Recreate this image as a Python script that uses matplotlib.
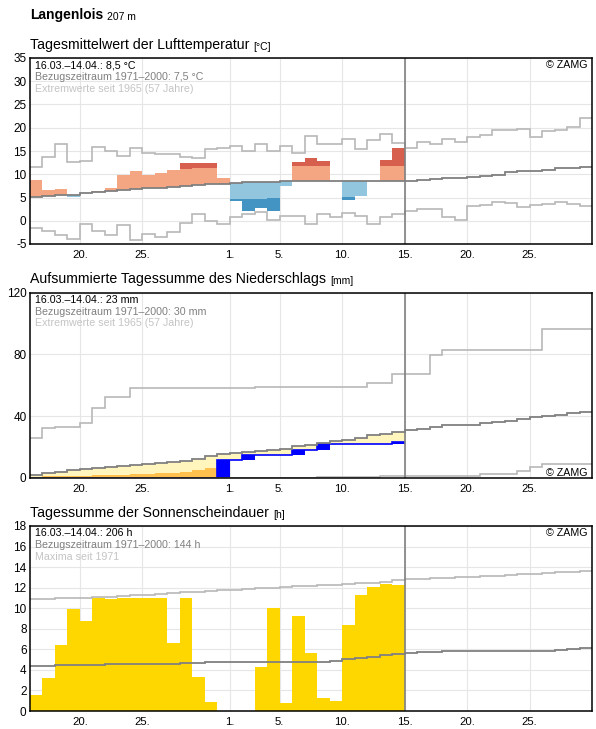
import numpy as np
import matplotlib
matplotlib.use("Agg")
import matplotlib.pyplot as plt
from matplotlib.transforms import offset_copy

plt.rcParams['font.family'] = ['Liberation Sans', 'DejaVu Sans']
plt.rcParams['axes.unicode_minus'] = False

# ---------------- data ----------------
# day index 0 = 16 March ... 44 = 30 April ; observed days 0..29 (16.03.-14.04.)
xtick_pos = [4, 9, 16, 20, 25, 30, 35, 40]
xtick_labels = ["20.", "25.", "1.", "5.", "10.", "15.", "20.", "25."]

temp_mean = [8.7, 6.6, 6.8, 5.1, 5.9, 6.4, 7.0, 9.8, 10.6, 9.8,
             10.2, 10.9, 12.4, 12.4, 12.4, 9.1, 4.2, 2.1, 2.7, 2.1,
             7.5, 12.6, 13.4, 12.8, 8.5, 4.5, 5.3, 8.5, 13.0, 15.6]
temp_ref = [5.1, 5.4, 5.6, 5.6, 5.9, 6.1, 6.4, 6.6, 6.8, 7.0,
            7.1, 7.3, 7.4, 7.6, 7.8, 8.0, 8.2, 8.3, 8.4, 8.4,
            8.5, 8.5, 8.5, 8.5, 8.5, 8.5, 8.5, 8.5, 8.5, 8.5,
            8.6, 8.7, 8.9, 9.1, 9.3, 9.5, 9.7, 9.9, 10.4, 10.6,
            10.7, 11.0, 11.3, 11.4, 11.6]
temp_upper = [9.0, 9.2, 9.4, 9.6, 9.8, 10.0, 10.2, 10.4, 10.6, 10.8,
              10.9, 11.0, 11.1, 11.3, 11.3, 11.4, 11.5, 11.5, 11.6, 11.6,
              11.7, 11.7, 11.7, 11.7, 11.7, 11.7, 11.7, 11.7, 11.7, 11.7]
temp_lower = [2.0, 2.2, 2.4, 2.6, 2.8, 3.0, 3.2, 3.4, 3.6, 3.8,
              4.0, 4.1, 4.2, 4.3, 4.4, 4.5, 4.7, 4.6, 4.7, 5.0,
              5.0, 5.1, 5.1, 5.1, 5.1, 5.1, 5.2, 5.2, 5.2, 5.2]
temp_max = [11.6, 13.8, 16.4, 12.7, 12.9, 15.9, 15.1, 14.0, 15.6, 14.6,
            14.4, 14.4, 13.8, 13.4, 15.4, 15.7, 16.1, 15.0, 16.6, 15.0,
            16.1, 14.6, 18.3, 16.6, 16.4, 17.6, 15.5, 17.4, 18.7, 16.8,
            15.7, 17.0, 16.6, 17.6, 17.0, 18.1, 18.5, 19.6, 19.6, 19.8,
            18.1, 19.4, 19.6, 20.2, 22.2]
temp_min = [-1.6, -2.1, -3.1, -4.0, -0.8, -2.1, -3.1, -1.0, -4.2, -2.9,
            -3.4, -2.5, -0.5, 1.4, -0.1, -0.8, 0.9, 1.4, 1.8, 0.1,
            1.1, 1.1, -0.6, 1.4, 0.9, 1.6, 1.1, -0.6, 0.7, 1.4,
            2.0, 2.6, 2.6, 0.7, 0.1, 3.1, 3.3, 4.1, 3.9, 2.9,
            3.3, 3.5, 4.1, 3.5, 3.1]

precip_cum = [0.0, 0.0, 0.0, 0.0, 0.0, 0.0, 0.0, 0.0, 0.0, 0.0,
              0.0, 0.0, 0.0, 0.0, 0.2, 11.6, 11.6, 14.8, 14.8, 14.8,
              14.8, 18.4, 18.4, 21.7, 21.7, 21.7, 21.7, 21.7, 21.7, 23.1]
precip_ref = [2.1, 3.3, 4.2, 5.2, 5.7, 6.4, 7.2, 8.0, 8.6, 9.2,
              9.7, 10.2, 10.9, 12.6, 14.3, 15.3, 16.0, 16.8, 17.4, 18.3,
              19.1, 20.6, 21.5, 22.4, 23.7, 24.7, 26.0, 27.7, 28.6, 30.1,
              31.0, 32.0, 33.3, 34.2, 34.2, 34.2, 35.3, 36.1, 37.0, 38.3,
              39.4, 40.2, 41.1, 41.9, 42.6]
precip_low = [0.6, 1.0, 1.3, 1.6, 1.6, 1.7, 2.1, 2.2, 2.3, 2.5,
              3.0, 3.5, 4.0, 5.2, 6.4, 7.0, 7.4, 7.8, 8.2, 8.6,
              9.0, 9.5, 10.0, 10.5, 11.0, 11.6, 12.2, 12.9, 13.5, 14.2]
precip_max = [26.0, 32.5, 32.9, 33.3, 35.5, 45.2, 52.3, 52.3, 58.3, 58.3,
              58.3, 58.3, 58.3, 58.3, 58.3, 58.3, 58.3, 58.3, 58.7, 58.7,
              58.7, 58.7, 58.7, 58.7, 58.7, 58.7, 58.7, 61.7, 61.7, 67.1,
              67.1, 67.1, 79.6, 83.2, 83.2, 83.2, 83.2, 83.2, 83.2, 83.2,
              83.2, 96.6, 96.6, 96.6, 96.6]
precip_min = [0.0, 0.0, 0.0, 0.0, 0.0, 0.0, 0.0, 0.0, 0.0, 0.0,
              0.0, 0.0, 0.0, 0.0, 0.0, 0.0, 0.0, 0.0, 0.0, 0.0,
              0.0, 0.0, 0.0, 0.4, 0.4, 0.4, 0.4, 0.4, 1.3, 1.3,
              1.3, 1.3, 1.3, 1.3, 1.3, 1.3, 2.6, 2.6, 2.6, 4.5,
              7.3, 9.0, 9.0, 9.0, 9.0]

sun = [1.6, 3.2, 6.4, 9.9, 8.8, 11.0, 10.9, 11.0, 11.0, 11.0,
       11.0, 6.6, 11.0, 3.3, 0.9, 0.0, 0.0, 0.0, 4.3, 10.0,
       0.8, 9.2, 5.6, 1.3, 1.0, 8.4, 11.3, 12.1, 12.4, 12.3]
sun_ref = [4.38, 4.38, 4.48, 4.48, 4.48, 4.48, 4.54, 4.54, 4.54, 4.54,
           4.54, 4.54, 4.64, 4.64, 4.74, 4.74, 4.74, 4.74, 4.74, 4.74,
           4.77, 4.77, 4.77, 4.77, 4.87, 5.03, 5.16, 5.29, 5.42, 5.5,
           5.6, 5.7, 5.75, 5.8, 5.87, 5.87, 5.87, 5.87, 5.87, 5.87,
           5.87, 5.87, 5.95, 6.0, 6.1]
sun_max = [10.87, 10.87, 10.95, 10.95, 11.0, 11.05, 11.1, 11.2, 11.25, 11.3,
           11.35, 11.45, 11.55, 11.6, 11.7, 11.75, 11.8, 11.85, 11.95, 12.0,
           12.1, 12.15, 12.2, 12.25, 12.3, 12.35, 12.45, 12.5, 12.6, 12.7,
           12.8, 12.85, 12.9, 12.95, 13.0, 13.05, 13.1, 13.15, 13.25, 13.3,
           13.35, 13.4, 13.5, 13.55, 13.65]

# ---------------- styling ----------------
W, H = 596, 729
SALMON, DARKRED = '#f4a582', '#d6604d'
LIGHTBLUE, DARKBLUE = '#92c5de', '#4393c3'
YELLOW, ORANGE, BLUE = '#fff5bd', '#ffc04d', '#0000ff'
GOLD = '#ffd700'
REFC, EXTC = '#808080', '#b8b8b8'
GRIDC = '#e6e6e6'
INFO_FS = 7.7
TICK_FS = 8.5

fig = plt.figure(figsize=(W / 100, H / 100), dpi=100)

def make_ax(top, bottom):
    ax = fig.add_axes([30 / W, 1 - bottom / H, 562 / W, (bottom - top) / H])
    ax.set_xlim(0, 45)
    ax.set_xticks(xtick_pos)
    ax.set_xticklabels(xtick_labels)
    ax.tick_params(axis='both', length=0, labelsize=TICK_FS, colors='black')
    ax.tick_params(axis='x', pad=4.5, labelsize=8.2)
    ax.tick_params(axis='y', pad=2.5)
    ax.grid(True, color=GRIDC, lw=0.8)
    ax.set_axisbelow(True)
    for s in ax.spines.values():
        s.set_linewidth(1.1)
        s.set_color('black')
    return ax

def title(ax, top, main, unit):
    t = fig.text(30 / W, 1 - (top - 9.5) / H, main, fontsize=10.2, va='baseline', ha='left')
    ax.annotate(unit, xy=(1, 0), xycoords=t, xytext=(3, 0), textcoords='offset points',
                fontsize=7.5, va='bottom', ha='left', annotation_clip=False)

def info(ax, lines):
    cols = ['black', '#808080', '#c4c4c4']
    for k, (txt, c) in enumerate(zip(lines, cols)):
        tr = offset_copy(ax.transAxes, fig=fig, x=5, y=-(10.5 + 11.5 * k), units='dots')
        ax.text(0, 1, txt, transform=tr, fontsize=INFO_FS, color=c, va='baseline', ha='left', zorder=5)

def zamg(ax, bottom=False):
    if bottom:
        tr = offset_copy(ax.transAxes, fig=fig, x=-5, y=2.5, units='dots')
        ax.text(1, 0, '© ZAMG', transform=tr, fontsize=INFO_FS, va='baseline', ha='right', zorder=2.4,
                bbox=dict(facecolor='white', edgecolor='none', pad=1.0))
    else:
        tr = offset_copy(ax.transAxes, fig=fig, x=-5, y=-10.5, units='dots')
        ax.text(1, 1, '© ZAMG', transform=tr, fontsize=INFO_FS, va='baseline', ha='right', zorder=5)

edges = np.arange(46)
xo = np.arange(30)

# ---- header ----
t0 = fig.text(30 / W, 1 - 19.5 / H, 'Langenlois', fontsize=10, fontweight='bold', va='baseline')

# ---------------- temperature ----------------
ax1 = make_ax(58, 244)
ax1.set_ylim(-5, 35)
ax1.set_yticks(np.arange(-5, 36, 5))
ax1.annotate('207 m', xy=(1, 0), xycoords=t0, xytext=(3, 0), textcoords='offset points',
             fontsize=7.5, va='bottom', ha='left', annotation_clip=False)
tm = np.array(temp_mean); tr_ = np.array(temp_ref[:30])
tu = np.array(temp_upper); tl = np.array(temp_lower)
above = tm > tr_
below = tm < tr_
s_top = np.where(above, np.minimum(tm, tu), tr_)
ax1.bar(xo, s_top - tr_, bottom=tr_, width=1, align='edge', color=SALMON, lw=0)
d_h = np.where(above & (tm > tu), tm - tu, 0)
ax1.bar(xo, d_h, bottom=tu, width=1, align='edge', color=DARKRED, lw=0)
lb_bot = np.where(below, np.maximum(tm, tl), tr_)
ax1.bar(xo, tr_ - lb_bot, bottom=lb_bot, width=1, align='edge', color=LIGHTBLUE, lw=0)
db_h = np.where(below & (tm < tl), tl - tm, 0)
ax1.bar(xo, db_h, bottom=tm, width=1, align='edge', color=DARKBLUE, lw=0)
ax1.stairs(temp_max, edges, baseline=None, color=EXTC, lw=1.2)
ax1.stairs(temp_min, edges, baseline=None, color=EXTC, lw=1.2)
ax1.stairs(temp_ref, edges, baseline=None, color=REFC, lw=1.3)
ax1.axvline(30, color=REFC, lw=1.2)
title(ax1, 58, 'Tagesmittelwert der Lufttemperatur', '[°C]')
info(ax1, ['16.03.–14.04.: 8,5 °C', 'Bezugszeitraum 1971–2000: 7,5 °C',
           'Extremwerte seit 1965 (57 Jahre)'])
zamg(ax1)

# ---------------- precipitation ----------------
ax2 = make_ax(292.7, 478)
ax2.set_ylim(0, 120)
ax2.set_yticks([0, 40, 80, 120])
pc = np.array(precip_cum); pr = np.array(precip_ref[:30]); pl = np.array(precip_low)
y_bot = np.maximum(pc, pl)
ax2.bar(xo, np.where(pc < pr, pr - y_bot, 0), bottom=y_bot, width=1, align='edge', color=YELLOW, lw=0)
ax2.bar(xo, np.where(pc < pl, pl - pc, 0), bottom=pc, width=1, align='edge', color=ORANGE, lw=0)
prev = np.concatenate([[0.0], pc[:-1]])
ax2.bar(xo, pc - prev, bottom=prev, width=1, align='edge', color=BLUE, lw=0)
ax2.stairs(precip_cum, np.arange(31), baseline=None, color=BLUE, lw=1.2)
ax2.stairs(precip_max, edges, baseline=None, color=EXTC, lw=1.2)
ax2.stairs(precip_min, edges, baseline=None, color=EXTC, lw=1.2)
ax2.stairs(precip_ref, edges, baseline=None, color=REFC, lw=1.3)
ax2.axvline(30, color=REFC, lw=1.2)
title(ax2, 292.7, 'Aufsummierte Tagessumme des Niederschlags', '[mm]')
info(ax2, ['16.03.–14.04.: 23 mm', 'Bezugszeitraum 1971–2000: 30 mm',
           'Extremwerte seit 1965 (57 Jahre)'])
zamg(ax2, bottom=True)

# ---------------- sunshine ----------------
ax3 = make_ax(526, 711)
ax3.set_ylim(0, 18)
ax3.set_yticks(np.arange(0, 19, 2))
ax3.bar(xo, sun, width=1, align='edge', color=GOLD, lw=0)
ax3.stairs(sun_max, edges, baseline=None, color=EXTC, lw=1.2)
ax3.stairs(sun_ref, edges, baseline=None, color=REFC, lw=1.3)
ax3.axvline(30, color=REFC, lw=1.2)
title(ax3, 526, 'Tagessumme der Sonnenscheindauer', '[h]')
info(ax3, ['16.03.–14.04.: 206 h', 'Bezugszeitraum 1971–2000: 144 h', 'Maxima seit 1971'])
zamg(ax3)

fig.savefig('out.png', dpi=100)
